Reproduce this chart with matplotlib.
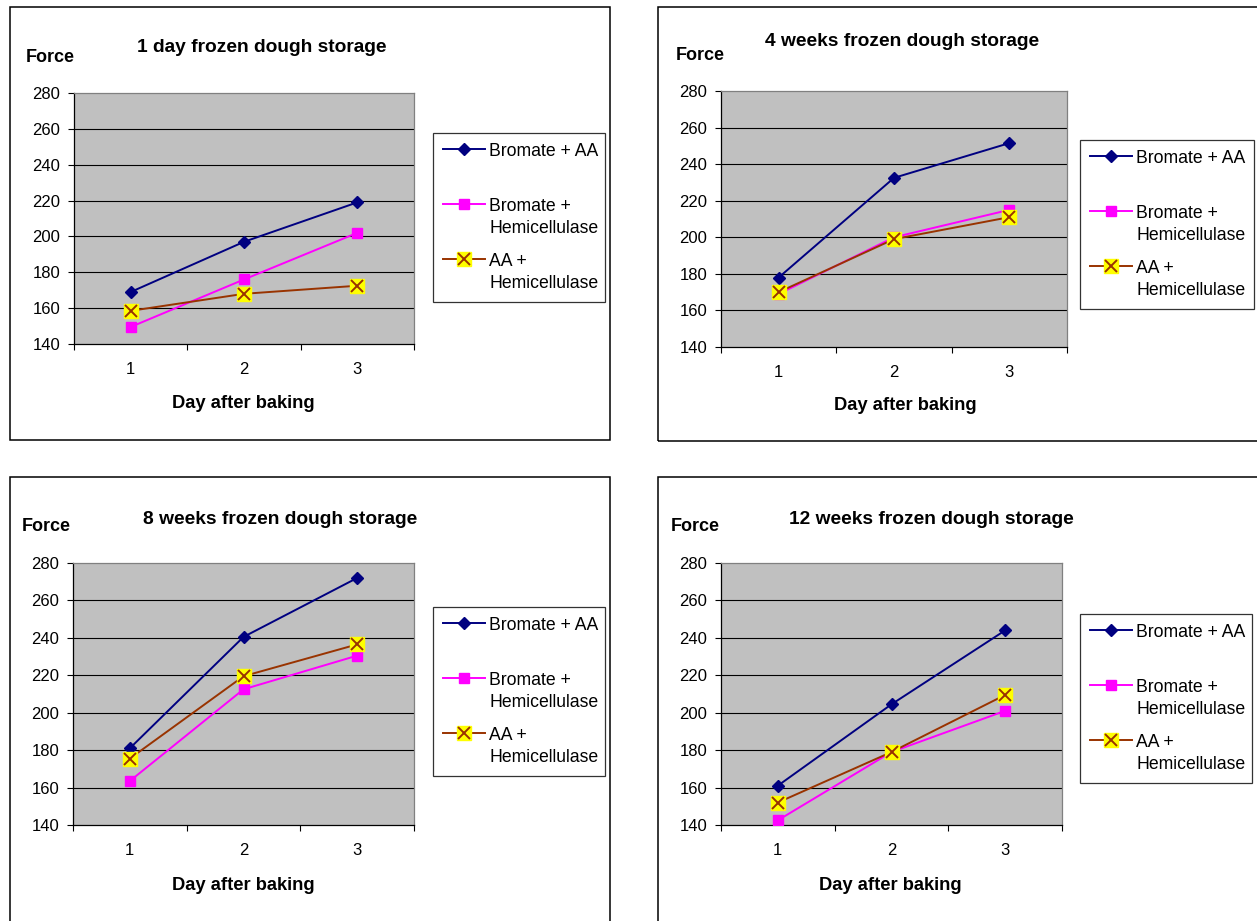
import matplotlib

matplotlib.use("Agg")
import matplotlib.pyplot as plt
from matplotlib.legend_handler import HandlerTuple
from matplotlib.patches import Rectangle

plt.rcParams["font.family"] = ["Liberation Sans", "DejaVu Sans"]

W, H = 1257, 921

days = [1, 2, 3]
titles = [
    "1 day frozen dough storage",
    "4 weeks frozen dough storage",
    "8 weeks frozen dough storage",
    "12 weeks frozen dough storage",
]
bromate_aa = [[169, 197, 219], [178, 232.5, 251.5], [181, 240.5, 272], [161, 204.5, 244]]
bromate_hemi = [[149.5, 176, 202], [169, 200, 215], [163.5, 212.5, 230.5], [142.5, 179, 201]]
aa_hemi = [[158.5, 168, 172.5], [170, 199, 211], [175.5, 219.5, 236.5], [152, 179, 209.5]]
labels = ["Bromate + AA", "Bromate +\nHemicellulase", "AA +\nHemicellulase"]
yticks = [140, 160, 180, 200, 220, 240, 260, 280]

# pixel layout per panel: box, plot area, legend box, title / Force / xlabel anchors
layout = [
    dict(box=(10, 7, 610, 440), ax=(74, 93, 414, 344), leg=(433, 133, 605, 298),
         title=(262, 47), force=(26, 57), xlab=(243, 404)),
    dict(box=(658, 7, 1300, 441), ax=(721, 91, 1067, 347), leg=(1080, 140, 1254, 298),
         title=(902, 42), force=(676, 56), xlab=(905, 406)),
    dict(box=(10, 477, 610, 960), ax=(73, 563, 414, 825), leg=(433, 607, 605, 770),
         title=(280, 519), force=(22, 526), xlab=(243, 885)),
    dict(box=(658, 477, 1300, 960), ax=(721, 563, 1062, 825), leg=(1080, 614, 1252, 776),
         title=(931, 519), force=(671, 526), xlab=(890, 885)),
]


def fx(x):
    return x / W


def fy(y):
    return 1 - y / H


fig = plt.figure(figsize=(W / 100, H / 100), dpi=100)

for i, lay in enumerate(layout):
    x0, y0, x1, y1 = lay["box"]
    fig.patches.append(Rectangle((fx(x0), fy(y1)), fx(x1 - x0), (y1 - y0) / H,
                                 transform=fig.transFigure, fill=False,
                                 edgecolor="black", linewidth=1.1))

    a0, b0, a1, b1 = lay["ax"]
    ax = fig.add_axes([fx(a0), fy(b1), fx(a1 - a0), (b1 - b0) / H])
    ax.set_facecolor("#C0C0C0")
    ax.set_xlim(0.5, 3.5)
    ax.set_ylim(140, 280)
    ax.set_yticks(yticks)
    ax.set_xticks(days)
    ax.set_xticks([0.5, 1.5, 2.5, 3.5], minor=True)
    ax.tick_params(axis="x", which="major", length=0, pad=13, labelsize=12)
    ax.tick_params(axis="x", which="minor", length=4, width=0.8, direction="out")
    ax.tick_params(axis="y", length=4, width=0.8, pad=6, labelsize=12)
    for yv in yticks[1:-1]:
        ax.axhline(yv, color="black", linewidth=0.8, zorder=1)
    for side in ["top", "right"]:
        ax.spines[side].set_color("#808080")
    for side in ["left", "bottom"]:
        ax.spines[side].set_color("black")
    for sp in ax.spines.values():
        sp.set_linewidth(0.9)

    l1, = ax.plot(days, bromate_aa[i], color="#000080", linewidth=1.4, marker="D",
                  markersize=6.5, zorder=3)
    l2, = ax.plot(days, bromate_hemi[i], color="#FF00FF", linewidth=1.4, marker="s",
                  markersize=6.5, zorder=3)
    l3, = ax.plot(days, aa_hemi[i], color="#993300", linewidth=1.4, marker="s",
                  markersize=10, markerfacecolor="#FFFF00", markeredgecolor="#FFFF00", zorder=4)
    l3x, = ax.plot(days, aa_hemi[i], linestyle="none", marker="x", markersize=8,
                   markeredgewidth=1.4, color="#993300", zorder=5)

    c0, d0, c1, d1 = lay["leg"]
    leg = ax.legend([l1, l2, (l3, l3x)], [labels[0] + "\n", labels[1], labels[2]],
                    handler_map={tuple: HandlerTuple(ndivide=1, pad=0)},
                    loc="upper left",
                    bbox_to_anchor=(fx(c0), fy(d1), fx(c1 - c0), (d1 - d0) / H),
                    bbox_transform=fig.transFigure, mode="expand",
                    fontsize=12.7, frameon=True, fancybox=False, borderpad=0.55,
                    labelspacing=0.9, handlelength=2.4, handletextpad=0.25,
                    borderaxespad=0)
    leg.get_frame().set_edgecolor("black")
    leg.get_frame().set_linewidth(0.9)
    for t in leg.get_texts():
        t.set_linespacing(1.4)
    for col in leg._legend_handle_box.get_children():
        for row in col.get_children():
            row.align = "top"

    tx, ty = lay["title"]
    fig.text(fx(tx), fy(ty), titles[i], ha="center", va="center",
             fontsize=13.8, fontweight="bold")
    fxx, fyy = lay["force"]
    fig.text(fx(fxx), fy(fyy), "Force", ha="left", va="center",
             fontsize=13, fontweight="bold")
    lx, ly = lay["xlab"]
    fig.text(fx(lx), fy(ly), "Day after baking", ha="center", va="center",
             fontsize=13.2, fontweight="bold")

fig.savefig("out.png", dpi=100)
